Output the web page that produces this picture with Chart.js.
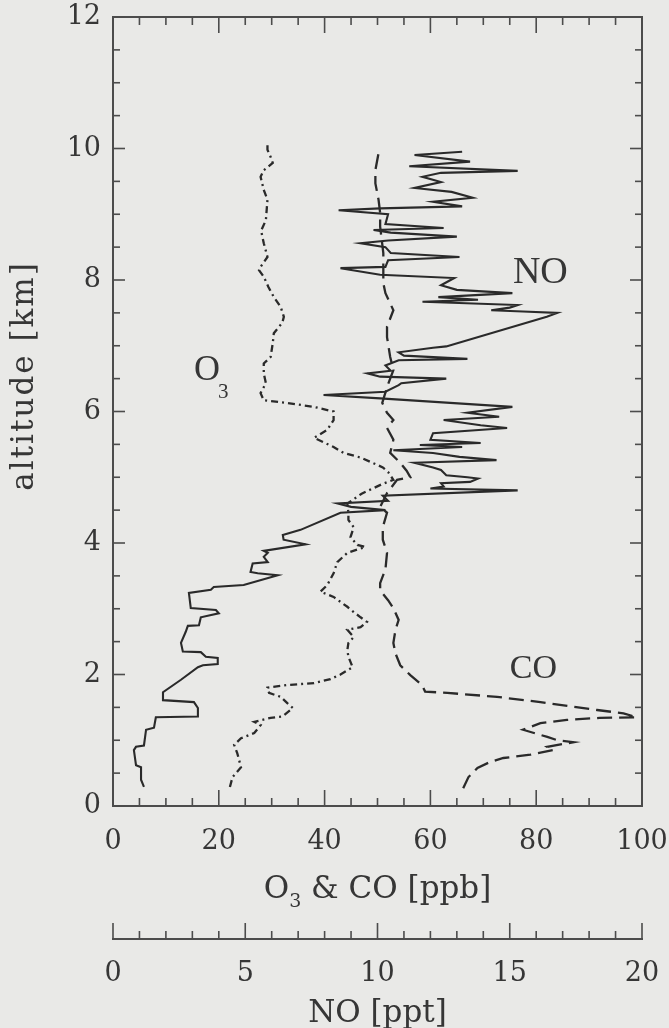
<!DOCTYPE html>
<html><head><meta charset="utf-8">
<script src="https://cdn.jsdelivr.net/npm/chart.js@4.4.1/dist/chart.umd.min.js"></script>
<style>html,body{margin:0;padding:0;background:#e9e9e7;}canvas{display:block;}</style>
</head><body>
<canvas id="c" width="669" height="1028"></canvas>
<script>
// ---- data (altitude km, mixing ratio) ----
const seriesNames = ['O3', 'CO', 'NO'];
const o3Alt = [0.29,0.44,0.59,0.80,0.93,1.03,1.11,1.23,1.28,1.34,1.36,1.49,1.56,1.66,1.72,1.80,1.84,1.87,1.93,2.00,2.11,2.27,2.37,2.48,2.57,2.68,2.72,2.80,2.87,2.95,3.03,3.18,3.26,3.36,3.54,3.71,3.85,3.94,3.97,4.09,4.24,4.35,4.46,4.60,4.75,4.90,4.96,5.08,5.15,5.30,5.37,5.46,5.60,5.72,5.87,6.00,6.07,6.13,6.17,6.28,6.43,6.58,6.73,6.83,7.04,7.19,7.35,7.44,7.59,7.74,7.89,8.05,8.15,8.20,8.35,8.56,8.75,8.91,9.22,9.37,9.57,9.67,9.78,9.87,9.98,10.08];
const o3Val = [22.1,22.6,24.2,23.5,22.9,24.2,26.7,27.9,26.7,29.8,32.0,34.0,33.0,31.7,29.5,29.2,33.0,38.0,41.1,43.0,45.3,44.5,44.3,44.5,45.5,44.3,46.8,48.0,46.8,45.5,44.3,41.7,39.2,40.5,41.7,42.4,44.3,47.7,46.2,44.9,45.5,44.5,44.5,44.3,47.0,51.0,53.0,52.0,51.0,46.8,43.6,41.7,38.0,40.5,41.7,41.7,38.0,33.0,28.5,27.9,28.9,28.5,28.5,29.8,30.2,30.4,32.0,32.3,31.7,30.4,29.4,28.5,27.6,27.9,29.2,28.5,28.0,28.9,29.2,28.5,27.9,28.5,30.2,29.8,29.2,29.2];
const coAlt = [0.27,0.44,0.58,0.67,0.73,0.78,0.85,0.90,0.97,1.00,1.05,1.16,1.26,1.31,1.34,1.35,1.41,1.46,1.51,1.58,1.66,1.72,1.74,1.84,1.99,2.14,2.32,2.48,2.68,2.83,3.01,3.13,3.28,3.39,3.60,3.85,4.05,4.24,4.46,4.55,4.76,4.96,5.00,5.10,5.22,5.37,5.57,5.75,5.87,5.98,6.13,6.37,6.63,6.83,7.13,7.29,7.54,7.80,7.95,8.20,8.41,8.81,9.02,9.22,9.47,9.67,9.93,10.00];
const coVal = [66.2,67.2,68.9,71.3,73.8,78.9,83.2,82.1,87.0,84.0,82.1,77.5,80.8,85.8,92.0,99.0,96.5,91.5,87.0,80.8,72.6,63.2,59.0,58.4,56.2,54.3,53.4,53.0,53.4,54.0,53.0,52.0,50.5,50.5,51.5,51.8,51.0,51.0,51.8,50.5,51.8,53.7,56.2,55.5,54.3,52.4,53.0,51.8,53.0,51.8,50.9,51.8,53.0,52.4,51.8,51.8,53.0,51.5,51.1,51.1,51.1,50.5,50.5,50.2,49.6,49.6,50.2,50.0];
const noAlt = [0.29,0.40,0.59,0.62,0.85,0.90,0.92,1.16,1.19,1.35,1.36,1.49,1.58,1.61,1.73,1.92,2.11,2.14,2.16,2.25,2.27,2.34,2.35,2.48,2.65,2.74,2.75,2.87,2.93,2.98,3.01,3.24,3.29,3.33,3.36,3.51,3.54,3.56,3.69,3.71,3.79,3.85,3.88,3.98,4.05,4.12,4.20,4.46,4.50,4.55,4.60,4.64,4.72,4.80,4.83,4.86,4.91,4.93,4.98,5.00,5.03,5.11,5.15,5.22,5.26,5.31,5.37,5.41,5.46,5.49,5.52,5.57,5.67,5.75,5.79,5.87,5.92,5.98,6.07,6.20,6.25,6.30,6.40,6.43,6.50,6.53,6.58,6.62,6.70,6.78,6.80,6.85,6.90,6.97,6.99,7.44,7.50,7.52,7.54,7.58,7.62,7.67,7.70,7.74,7.80,7.85,7.92,8.03,8.08,8.18,8.20,8.30,8.35,8.41,8.50,8.56,8.60,8.66,8.72,8.76,8.79,8.85,9.00,9.06,9.09,9.12,9.19,9.25,9.34,9.40,9.49,9.57,9.63,9.66,9.73,9.80,9.90,9.95];
const noVal = [1.17,1.06,1.06,0.87,0.79,0.87,1.17,1.25,1.55,1.62,3.21,3.21,3.06,1.89,1.89,2.57,3.21,3.40,3.96,3.96,3.51,3.32,2.64,2.57,2.75,2.83,3.25,3.32,4.00,3.89,2.94,2.87,3.70,3.81,4.94,6.23,5.47,5.20,5.28,5.85,5.70,5.85,5.70,7.28,6.45,6.42,7.09,8.60,10.3,9.0,8.5,10.4,10.2,15.3,12.0,12.5,12.4,13.5,13.8,13.4,12.6,12.4,12.1,11.4,14.5,13.1,12.1,10.6,13.2,11.6,13.9,12.0,12.1,14.9,13.9,12.5,14.6,13.4,15.1,10.1,7.96,10.3,10.8,10.9,12.6,10.1,9.62,10.5,10.3,10.8,13.4,11.0,10.8,12.1,12.6,16.4,16.8,15.5,14.3,15.0,15.3,11.7,13.8,12.3,15.1,13.0,12.4,12.9,10.1,8.6,10.3,10.4,13.1,10.5,10.3,9.36,10.4,13.0,10.5,9.85,12.5,10.3,10.4,8.53,10.1,13.2,12.1,13.6,12.8,11.4,12.4,11.7,12.4,15.3,11.2,13.5,11.4,13.2];

const altLabels = [0, 2, 4, 6, 8, 10, 12];
const ppbLabels = [0, 20, 40, 60, 80, 100];
const pptLabels = [0, 5, 10, 15, 20];

const pts = (alt, val) => alt.map((a, i) => ({x: val[i], y: a}));

const INK = '#2a2a2a';
const AXIS = '#4c4c4c';
const TXT = '#363636';
const SERIF = '"DejaVu Serif", serif';
const TIMES = '"Liberation Serif", serif';

Chart.defaults.font.family = SERIF;
Chart.defaults.color = TXT;

const noPad = s => { s.paddingLeft = 0; s.paddingRight = 0; s.paddingTop = 0; s.paddingBottom = 0; };

const decor = {
  id: 'decor',
  afterDraw(chart) {
    const {ctx, chartArea: a, scales: {x, x2, y}} = chart;
    ctx.save();
    ctx.strokeStyle = AXIS; ctx.lineWidth = 2;
    ctx.beginPath();
    ctx.moveTo(a.left, a.top); ctx.lineTo(a.right, a.top); ctx.lineTo(a.right, a.bottom);
    ctx.stroke();
    ctx.lineWidth = 1.6;
    const seg = (x0, y0, x1, y1) => { ctx.beginPath(); ctx.moveTo(x0, y0); ctx.lineTo(x1, y1); ctx.stroke(); };
    x.ticks.forEach(t => {
      const p = x.getPixelForValue(t.value);
      const L = ppbLabels.includes(t.value) ? 16 : 8;
      seg(p, a.bottom, p, a.bottom - L);
      seg(p, a.top, p, a.top + L);
    });
    y.ticks.forEach(t => {
      const p = y.getPixelForValue(t.value);
      const L = altLabels.includes(t.value) ? 12 : 7;
      seg(a.left, p, a.left + L, p);
      seg(a.right, p, a.right - L, p);
    });
    x2.ticks.forEach(t => {
      const p = x2.getPixelForValue(t.value);
      const L = pptLabels.includes(t.value) ? 16 : 8;
      seg(p, x2.top, p, x2.top - L);
    });
    // axis titles
    ctx.fillStyle = TXT;
    ctx.textBaseline = 'alphabetic';
    ctx.textAlign = 'left';
    const cx = (a.left + a.right) / 2;
    ctx.font = '31px ' + SERIF;
    const wO = ctx.measureText('O').width;
    const rest = ' & CO [ppb]';
    const wR = ctx.measureText(rest).width;
    ctx.font = '19px ' + SERIF;
    const w3 = ctx.measureText('3').width;
    let sx = cx - (wO + w3 + wR) / 2;
    const by = x.top + 92;
    ctx.font = '31px ' + SERIF; ctx.fillText('O', sx, by);
    ctx.font = '19px ' + SERIF; ctx.fillText('3', sx + wO, by + 9);
    ctx.font = '31px ' + SERIF; ctx.fillText(rest, sx + wO + w3, by);
    ctx.textAlign = 'center';
    ctx.fillText('NO [ppt]', cx, x2.top + 83);
    ctx.save();
    ctx.translate(33, 376);
    ctx.rotate(-Math.PI / 2);
    try { ctx.letterSpacing = '2px'; } catch (e) {}
    ctx.font = '31px ' + SERIF;
    ctx.fillText('altitude [km]', 0, 0);
    ctx.restore();
    // in-plot series labels
    ctx.textAlign = 'left';
    ctx.font = '36px ' + TIMES;
    const ox = x.getPixelForValue(15.3), oy = y.getPixelForValue(6.48);
    ctx.fillText('O', ox, oy);
    const wo = ctx.measureText('O').width;
    ctx.font = '21px ' + TIMES;
    ctx.fillText('3', ox + wo - 2, oy + 18);
    ctx.font = '38px ' + TIMES;
    ctx.fillText(seriesNames[2], x.getPixelForValue(75.6), y.getPixelForValue(7.95));
    ctx.font = '34px ' + TIMES;
    ctx.fillText(seriesNames[1], x.getPixelForValue(75.0), y.getPixelForValue(1.95));
    ctx.restore();
  }
};

const common = {showLine: true, pointRadius: 0, borderColor: INK, borderWidth: 2.3, fill: false, tension: 0};

new Chart(document.getElementById('c'), {
  type: 'scatter',
  data: {
    datasets: [
      {...common, label: seriesNames[0], data: pts(o3Alt, o3Val), xAxisID: 'x', borderDash: [7, 4, 2, 4]},
      {...common, label: seriesNames[1], data: pts(coAlt, coVal), xAxisID: 'x', borderDash: [15, 7]},
      {...common, label: seriesNames[2], data: pts(noAlt, noVal), xAxisID: 'x2', borderWidth: 2.1}
    ]
  },
  options: {
    responsive: false,
    animation: false,
    devicePixelRatio: 1,
    layout: {padding: {top: 17, right: 27, left: 0, bottom: 0}},
    plugins: {legend: {display: false}, tooltip: {enabled: false}},
    scales: {
      x: {
        type: 'linear', position: 'bottom', weight: 0, min: 0, max: 100,
        grid: {display: false, drawTicks: false},
        border: {display: true, color: AXIS, width: 2},
        ticks: {stepSize: 5, autoSkip: false, maxRotation: 0, maxTicksLimit: 100, padding: 20, font: {size: 27},
          callback: v => ppbLabels.includes(v) ? String(v) : ''},
        afterFit: s => { s.height = 133; noPad(s); }
      },
      x2: {
        type: 'linear', position: 'bottom', weight: 1, min: 0, max: 20,
        grid: {display: false, drawTicks: false},
        border: {display: true, color: AXIS, width: 2},
        ticks: {stepSize: 1, autoSkip: false, maxRotation: 0, maxTicksLimit: 100, padding: 19, font: {size: 27},
          callback: v => pptLabels.includes(v) ? String(v) : ''},
        afterFit: s => { s.height = 89; noPad(s); }
      },
      y: {
        type: 'linear', position: 'left', min: 0, max: 12,
        grid: {display: false, drawTicks: false},
        border: {display: true, color: AXIS, width: 2},
        ticks: {stepSize: 0.5, autoSkip: false, maxTicksLimit: 100, padding: 12, font: {size: 27},
          callback: v => altLabels.includes(v) ? String(v) : ''},
        afterFit: s => { s.width = 113; noPad(s); }
      }
    }
  },
  plugins: [decor]
});
</script>
</body></html>
